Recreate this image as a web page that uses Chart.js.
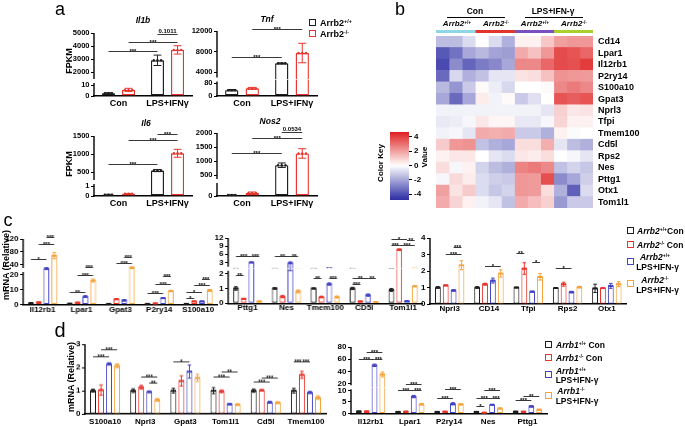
<!DOCTYPE html>
<html><head><meta charset="utf-8">
<script src="https://cdn.jsdelivr.net/npm/chart.js@4.4.1/dist/chart.umd.min.js"></script>
<style>
html,body{margin:0;padding:0;background:#fff;}
body{width:685px;height:426px;position:relative;overflow:hidden;font-family:"Liberation Sans",Arial,sans-serif;}
.t{position:absolute;white-space:nowrap;font-weight:bold;color:#000;line-height:1;}
.sq{position:absolute;width:5px;height:5px;border:1.4px solid #000;background:#fff;}
.hl{position:absolute;height:0;border-top:1px solid #000;}
sup{font-size:0.6em;vertical-align:0.5em;line-height:0;}
</style></head><body>
<script>
// ---------------- DATA ----------------
// Panel a (FPKM)
const aCats = ['Con', 'LPS+IFNγ'];
const il1bWT = [2.5, 2900], il1bWTErr = [0.5, 400];
const il1bKO = [5.5, 3700], il1bKOErr = [1.5, 320];
const tnfWT = [36, 5700], tnfWTErr = [4, 80];
const tnfKO = [47, 7700], tnfKOErr = [6, 1900];
const il6WT = [0.12, 540], il6WTErr = [0.05, 30];
const il6KO = [0.22, 1020], il6KOErr = [0.02, 110];
const nos2WT = [0.1, 850], nos2WTErr = [0.03, 80];
const nos2KO = [0.3, 1270], nos2KOErr = [0.1, 170];
// significance brackets: [cat1, bar1, cat2, bar2, y, label]
const annIl1b = [[0,0,1,0,3600,'***'],[0,1,1,1,4330,'***'],[1,0,1,1,4900,'0.1011']];
const annTnf = [[0,1,1,1,12400,'***'],[0,0,1,0,7020,'***']];
const annIl6 = [[1,0,1,1,1555,'***'],[0,1,1,1,1389,'***'],[0,0,1,0,722,'***']];
const annNos2 = [[1,0,1,1,2036,'0.0534'],[0,1,1,1,1820,'***'],[0,0,1,0,1285,'***']];

// Panel b heatmap
const heatGenes = ['Cd14','Lpar1','Il12rb1','P2ry14','S100a10','Gpat3','Nprl3','Tfpi','Tmem100','Cd5l','Rps2','Nes','Pttg1','Otx1','Tom1l1'];
const heatSamples = ['WT Con 1','WT Con 2','WT Con 3','KO Con 1','KO Con 2','KO Con 3','WT LPS 1','WT LPS 2','WT LPS 3','KO LPS 1','KO LPS 2','KO LPS 3'];
const heatValues = [
 [-1.5,-1.5,-0.8, 0.0,-0.8,-1.8,  0.3, 0.3, 1.2,  2.0, 2.2, 2.2],
 [-3.8,-3.2,-2.0,-1.6,-2.1,-2.2,  1.8, 1.3, 2.2,  3.8, 3.6, 3.2],
 [-4.1,-2.6,-3.5,-3.0,-2.7,-2.0,  2.5, 2.5, 3.2,  3.8, 3.7, 4.1],
 [-3.4,-0.9,-1.8,-1.4,-0.6,-0.6,  0.6, 0.7, 1.3,  2.3, 2.2, 2.1],
 [-1.6,-2.4,-1.2, 0.1,-0.4,-0.9,  0.0, 0.0, 0.1,  2.5, 2.8, 2.5],
 [-2.0,-3.4,-2.0, 0.4,-0.3, 0.1, -1.2,-0.7, 0.0,  3.6, 3.4, 3.6],
 [-0.3,-0.3,-0.3,-0.3,-0.3,-0.3, -0.3,-0.3,-0.6,  1.0, 0.5, 0.6],
 [-0.5,-0.4,-0.2, 0.5, 0.2, 0.2, -0.5,-0.5,-0.2,  0.9, 0.3, 0.3],
 [-0.3,-0.2,-0.6, 1.8, 1.7, 1.8, -1.2,-1.2,-1.8,  0.3,-0.1, 0.0],
 [ 1.1, 2.2, 2.3,-1.4,-1.8,-2.0,  0.7, 0.7, 1.7, -0.6,-1.5,-1.8],
 [ 0.3, 0.5, 0.5, 0.0,-0.6,-0.8,  0.5, 0.4, 0.7,  0.0,-0.2,-0.6],
 [ 0.7,-0.2, 0.3,-1.0,-1.5,-1.8,  2.6, 2.8, 2.5, -1.4,-1.0,-1.3],
 [-0.2, 0.8, 0.4,-0.8,-1.1,-1.2,  2.2, 2.1, 3.7, -2.6,-2.0,-1.1],
 [ 2.0, 0.6, 1.1,-0.8,-1.3,-1.0,  2.2, 2.1, 0.7, -1.8,-3.6,-0.8],
 [ 1.8, 0.9, 0.3,-0.3,-0.6,-1.4,  1.8, 1.4, 1.0, -2.3,-1.2,-1.2]
];
const stripGroups = ['Arrb2+/+ Con','Arrb2-/- Con','Arrb2+/+ LPS','Arrb2-/- LPS'];
const stripColors = ['#8fd6e6','#e0362c','#7b4fbf','#a9d12b'];
const keyTicks = [-4,-2,0,2,4];

// Panel c (mRNA relative)
const c1Genes = ['Il12rb1','Lpar1','Gpat3','P2ry14','S100a10'];
const c1WTCon = [1.0, 0.6, 0.4, 0.5, 0.5], c1WTConErr = [0.15,0.1,0.1,0.1,0.1];
const c1KOCon = [1.5, 1.2, 3.6, 0.7, 2.1], c1KOConErr = [0.2,0.3,0.4,0.2,0.2];
const c1WTLps = [27, 5.3, 2.8, 4.3, 2.1], c1WTLpsErr = [3,0.6,0.5,0.3,0.2];
const c1KOLps = [68, 16, 30, 9.0, 9.4], c1KOLpsErr = [10,1,2,0.4,0.5];
const annC1 = [[0,0,0,2,56,'*'],[0,1,0,3,105,'***'],[0,2,0,3,127,'***'],
 [1,0,1,2,8.5,'**'],[1,1,1,3,20,'***'],[1,2,1,3,33.7,'***'],
 [2,1,2,3,44,'***'],[2,2,2,3,63,'***'],
 [3,0,3,2,7.5,'***'],[3,1,3,3,13.8,'***'],[3,2,3,3,18.7,'***'],
 [4,0,4,1,4.5,'*'],[4,0,4,2,8.2,'*'],[4,1,4,3,13.1,'***'],[4,2,4,3,17.1,'***']];
const c2Genes = ['Pttg1','Nes','Tmem100','CD5l','Tom1l1'];
const c2WTCon = [1.0, 1.0, 1.0, 1.0, 0.9], c2WTConErr = [0.12,0.05,0.03,0.08,0.1];
const c2KOCon = [0.3, 0.45, 0.42, 0.12, 7.7], c2KOConErr = [0.03,0.08,0.06,0.02,0.25];
const c2WTLps = [3.0, 2.7, 1.3, 0.55, 0.15], c2WTLpsErr = [0.1,0.5,0.08,0.08,0.03];
const c2KOLps = [0.12, 0.8, 0.42, 0.08, 1.15], c2KOLpsErr = [0.02,0.1,0.07,0.02,0.03];
const annC2 = [[0,0,0,1,1.93,'**'],[0,0,0,2,5.2,'***'],[0,2,0,3,5.2,'***'],
 [1,0,1,2,5.2,'**'],[1,2,1,3,5.2,'**'],
 [2,0,2,1,1.7,'**'],[2,2,2,3,1.7,'***'],
 [3,0,3,1,1.3,'***'],[3,0,3,2,1.7,'**'],[3,2,3,3,1.7,'**'],
 [4,0,4,1,9.6,'***'],[4,0,4,2,11.7,'*'],[4,1,4,3,9.6,'***'],[4,2,4,3,11.1,'**']];
const c3Genes = ['Nprl3','CD14','Tfpi','Rps2','Otx1'];
const c3WTCon = [1.0, 1.0, 1.0, 0.97, 0.95], c3WTConErr = [0.05,0.05,0.03,0.03,0.25];
const c3KOCon = [1.13, 1.2, 2.15, 1.2, 0.97], c3KOConErr = [0.03,0.06,0.35,0.12,0.03];
const c3WTLps = [0.82, 1.42, 0.75, 0.72, 1.1], c3WTLpsErr = [0.05,0.15,0.03,0.05,0.15];
const c3KOLps = [2.35, 1.85, 1.65, 1.02, 1.2], c3KOLpsErr = [0.27,0.22,0.2,0.05,0.15];
const annC3 = [[0,2,0,3,3.45,'***'],[0,1,0,3,3.05,'***'],[1,1,1,3,2.3,'*'],
 [2,0,2,1,3.07,'**'],[2,2,2,3,2.56,'*'],[3,0,3,2,2.16,'*']];

// Panel d
const d1Genes = ['S100a10','Nprl3','Gpat3','Tom1l1','Cd5l','Tmem100'];
const d1WTCon = [1.0, 1.0, 1.0, 1.0, 1.0, 1.0], d1WTConErr = [0.06,0.08,0.1,0.13,0.07,0.1];
const d1KOCon = [1.03, 1.15, 1.42, 0.97, 1.02, 1.68], d1KOConErr = [0.22,0.08,0.22,0.06,0.03,0.15];
const d1WTLps = [2.15, 0.95, 1.82, 0.42, 0.5, 0.92], d1WTLpsErr = [0.05,0.04,0.28,0.03,0.04,0.05];
const d1KOLps = [2.07, 0.6, 1.55, 0.4, 0.48, 0.7], d1KOLpsErr = [0.08,0.06,0.15,0.04,0.04,0.08];
const annD1 = [[0,0,0,2,2.46,'***'],[0,1,0,3,2.78,'***'],[1,1,1,3,1.59,'***'],[1,2,1,3,1.35,'**'],
 [2,0,2,2,2.27,'*'],[3,0,3,2,1.62,'***'],[3,1,3,3,1.84,'**'],[4,0,4,2,1.4,'***'],[4,1,4,3,1.57,'***'],
 [5,0,5,1,2.27,'***'],[5,1,5,2,2.27,'***']];
const d2Genes = ['Il12rb1','Lpar1','P2ry14','Nes','Pttg1'];
const d2WTCon = [1.0, 0.8, 0.7, 0.8, 0.9], d2WTConErr = [0.1,0.1,0.1,0.1,0.1];
const d2KOCon = [1.0, 0.9, 0.9, 0.4, 0.9], d2KOConErr = [0.1,0.1,0.1,0.05,0.05];
const d2WTLps = [50, 7.3, 4.2, 3.8, 3.1], d2WTLpsErr = [2,0.5,0.5,0.2,0.3];
const d2KOLps = [35, 4.0, 4.0, 2.2, 1.7], d2KOLpsErr = [4,0.3,0.2,0.2,0.1];
const annD2 = [[0,0,0,2,60,'***'],[0,1,0,3,71,'***'],[0,2,0,3,60,'***'],
 [1,0,1,2,10.3,'***'],[1,1,1,3,20,'***'],[1,2,1,3,10.3,'***'],
 [2,0,2,2,6.9,'***'],[2,1,2,3,10.4,'***'],
 [3,0,3,1,3.1,'*'],[3,0,3,2,6.7,'***'],[3,1,3,3,10,'***'],[3,2,3,3,6.7,'***'],
 [4,0,4,2,6,'***'],[4,1,4,3,7.5,'**']];

// ---------------- STYLE / HELPERS ----------------
const FONT = '"Liberation Sans", Arial, sans-serif';
Chart.defaults.font.family = FONT;
Chart.defaults.color = '#000';
const cWT = '#1e1e1e', cKO = '#e8352c', cWTL = '#4444c6', cKOL = '#f6a23a';

function seg(v1, p1, v2, p2, pb, pt, ticks) {
  const k = (v2 - v1) / (p2 - p1);
  return {min: v1 + (pb - p1) * k, max: v1 + (pt - p1) * k, pb, pt, ticks};
}
function wrap(l, t, w, h) {
  const d = document.createElement('div');
  d.style.cssText = `position:absolute;left:${l}px;top:${t}px;width:${w}px;height:${h}px;`;
  const c = document.createElement('canvas');
  d.appendChild(c); document.body.appendChild(d);
  return c;
}
const baseOpts = {animation:false, responsive:true, maintainAspectRatio:false, events:[],
  plugins:{legend:{display:false}, tooltip:{enabled:false}, title:{display:false}}};

function barChart(o) {
  const YW = 30, TP = 16, RP = 6, XH = o.xh || 14, bw = o.bw || 1.1;
  const segs = o.segs, n = segs.length;
  const top = segs[n-1].pt, bot = segs[0].pb;
  const cl = o.l - YW, ct = top - TP, cw = o.r + RP - cl, ch = bot + XH - ct;
  const cv = wrap(cl, ct, cw, ch);
  const scales = {
    x: {type:'category', offset:true, grid:{display:false, drawTicks:false},
        border:{display:true, color:'#000', width:1.4},
        ticks:{font:{family:FONT, size:o.xf||8, weight:'bold'}, color:'#000', padding:o.xp||0, maxRotation:0, minRotation:0, autoSkip:false},
        afterFit: s => { s.height = XH; s.paddingLeft = 0; s.paddingRight = 0; }}
  };
  segs.forEach((sg, i) => {
    const sc = {type:'linear', position:'left', min:sg.min, max:sg.max, stacked:false,
      afterBuildTicks: s => { s.ticks = sg.ticks.map(v => ({value:v})); },
      afterFit: s => { s.width = YW; s.paddingTop = 0; s.paddingBottom = 0; },
      grid:{display:true, drawOnChartArea:false, drawTicks:true, tickLength:3, color:'#000', lineWidth:1},
      border:{display:false},
      ticks:{font:{family:FONT, size:o.yf||8, weight:'bold'}, color:'#000', padding:1.5, autoSkip:false, callback: v => String(v)}};
    if (n > 1) { sc.stack = 'v'; sc.stackWeight = sg.pb - sg.pt; }
    scales['y' + i] = sc;
  });
  const ds = [];
  o.series.forEach((s, i) => {
    ds.push({label:s.name, data:s.v.map(v => Math.min(v, segs[0].max)), yAxisID:'y0', stack:'g'+i,
      borderColor:s.c, backgroundColor:'#fff', borderSkipped:false,
      borderWidth: ctx => ({left:bw, right:bw, bottom:bw, top:(n > 1 && s.v[ctx.dataIndex] > segs[0].max) ? 0 : bw}),
      barPercentage:o.bp, categoryPercentage:o.cp});
  });
  if (n > 1) o.series.forEach((s, i) => {
    ds.push({label:s.name + ' (upper)', data:s.v.map(v => v > segs[1].min ? [segs[1].min, v] : null), yAxisID:'y1', stack:'g'+i,
      borderColor:s.c, backgroundColor:'#fff', borderSkipped:false,
      borderWidth:{left:bw, right:bw, top:bw, bottom:0},
      barPercentage:o.bp, categoryPercentage:o.cp});
  });
  const ext = {id:'ext', afterDatasetsDraw(chart) {
    const ctx = chart.ctx, ca = chart.chartArea;
    const S = segs.map((sg, i) => chart.scales['y' + i]);
    const pix = v => { for (let i = 0; i < n; i++) { if (v <= segs[i].max || i === n - 1) return S[i].getPixelForValue(i > 0 ? Math.max(v, segs[i].min) : v); } };
    ctx.save();
    ctx.strokeStyle = '#000'; ctx.lineWidth = 1.4;
    S.forEach((sc, i) => {
      const y1 = sc.bottom - (i > 0 ? 2 : -0.7), y2 = sc.top + (i < n - 1 ? 2 : 0);
      ctx.beginPath(); ctx.moveTo(ca.left, y1); ctx.lineTo(ca.left, y2); ctx.stroke();
    });
    o.series.forEach((s, si) => {
      const meta = chart.getDatasetMeta(si);
      s.v.forEach((v, ci) => {
        const bar = meta.data[ci]; const x = bar.x, w = bar.width, e = s.e[ci];
        const yT = pix(v + e), yB = pix(Math.max(v - e, 0)), cap = Math.max(1.6, w * 0.3);
        ctx.strokeStyle = s.c; ctx.lineWidth = 1;
        ctx.beginPath(); ctx.moveTo(x, yT); ctx.lineTo(x, yB);
        ctx.moveTo(x - cap, yT); ctx.lineTo(x + cap, yT);
        ctx.moveTo(x - cap, yB); ctx.lineTo(x + cap, yB); ctx.stroke();
        ctx.fillStyle = s.c; const py = pix(v);
        [-0.28, 0, 0.28].forEach(f => { ctx.beginPath(); ctx.arc(x + f * w, py, o.dr || 1.1, 0, Math.PI * 2); ctx.fill(); });
      });
    });
    ctx.textAlign = 'center'; ctx.textBaseline = 'alphabetic';
    (o.ann || []).forEach(a => {
      const [c1, b1, c2, b2, y, t] = a;
      const x1 = chart.getDatasetMeta(b1).data[c1].x, x2 = chart.getDatasetMeta(b2).data[c2].x;
      const py = Math.round(pix(y)) + 0.5;
      ctx.strokeStyle = '#222'; ctx.lineWidth = 0.9;
      ctx.beginPath(); ctx.moveTo(x1, py); ctx.lineTo(x2, py); ctx.stroke();
      ctx.fillStyle = '#000';
      const star = t[0] === '*';
      ctx.font = `bold ${star ? 6 : 6}px ${FONT}`;
      ctx.fillText(t, (x1 + x2) / 2, star ? py + 1.6 : py - 1.2);
    });
    ctx.restore();
  }};
  return new Chart(cv, {type:'bar', data:{labels:o.cats, datasets:ds},
    options:Object.assign({}, baseOpts, {layout:{padding:{top:TP, right:RP, left:0, bottom:0}}, scales}),
    plugins:[ext]});
}

function heatColor(v) {
  const t = Math.max(-1, Math.min(1, v / 4.7));
  const e = t < 0 ? [48, 48, 165] : [222, 32, 32];
  const a = Math.abs(t);
  return `rgb(${Math.round(255 + (e[0] - 255) * a)},${Math.round(255 + (e[1] - 255) * a)},${Math.round(255 + (e[2] - 255) * a)})`;
}

function T(html, x, y, size, opt) {
  opt = opt || {};
  const d = document.createElement('div');
  d.className = 't'; d.innerHTML = html;
  d.style.fontSize = size + 'px'; d.style.left = x + 'px'; d.style.top = y + 'px';
  if (opt.it) d.style.fontStyle = 'italic';
  if (opt.nb) d.style.fontWeight = 'normal';
  d.style.transform = (opt.a === 'l' ? 'translate(0,-50%)' : 'translate(-50%,-50%)') + (opt.rot ? ' rotate(-90deg)' : '');
  document.body.appendChild(d);
}
function SQ(cx, cy, color) {
  const d = document.createElement('div'); d.className = 'sq';
  d.style.left = (cx - 4) + 'px'; d.style.top = (cy - 4) + 'px'; d.style.borderColor = color;
  document.body.appendChild(d);
}
function HL(x1, x2, y) {
  const d = document.createElement('div'); d.className = 'hl';
  d.style.left = x1 + 'px'; d.style.top = y + 'px'; d.style.width = (x2 - x1) + 'px';
  document.body.appendChild(d);
}

// ---------------- PANEL a ----------------
const aStyle = {cats:aCats, cp:0.82, bp:0.65, xf:9, xp:2, xh:14, bw:1.4, dr:1.2, yf:7.5};
barChart(Object.assign({l:94, r:192, segs:[seg(0,96,10,85,96,81,[0,10]), seg(2000,72,5000,33,81,33,[2000,3000,4000,5000])],
  series:[{name:'Arrb2+/+', c:cWT, v:il1bWT, e:il1bWTErr}, {name:'Arrb2-/-', c:cKO, v:il1bKO, e:il1bKOErr}], ann:annIl1b}, aStyle));
barChart(Object.assign({l:217, r:317, segs:[seg(0,96,80,83,96,79.5,[0,80]), seg(4000,72,12000,31,79.5,31,[4000,8000,12000])],
  series:[{name:'Arrb2+/+', c:cWT, v:tnfWT, e:tnfWTErr}, {name:'Arrb2-/-', c:cKO, v:tnfKO, e:tnfKOErr}], ann:annTnf}, aStyle));
barChart(Object.assign({l:94, r:192, segs:[seg(0,196,1,186,196,182,[0,1]), seg(500,172,1500,136,182,136,[500,1000,1500])],
  series:[{name:'Arrb2+/+', c:cWT, v:il6WT, e:il6WTErr}, {name:'Arrb2-/-', c:cKO, v:il6KO, e:il6KOErr}], ann:annIl6}, aStyle));
barChart(Object.assign({l:217, r:317, segs:[seg(0,196,1,186,196,181,[0]), seg(500,175,2000,133,181,133,[500,1000,1500,2000])],
  series:[{name:'Arrb2+/+', c:cWT, v:nos2WT, e:nos2WTErr}, {name:'Arrb2-/-', c:cKO, v:nos2KO, e:nos2KOErr}], ann:annNos2}, aStyle));

// ---------------- PANEL c ----------------
const cStyle = {cp:0.8, bp:0.75, xf:8, xp:0, xh:12, bw:1.1};
barChart(Object.assign({l:23, r:216.5, cats:c1Genes,
  segs:[seg(0,304,20,274,304,269.5,[0,10,20]), seg(40,264,120,238.5,269.5,238.5,[40,80,120])],
  series:[{name:'WT Con', c:cWT, v:c1WTCon, e:c1WTConErr}, {name:'KO Con', c:cKO, v:c1KOCon, e:c1KOConErr},
          {name:'WT LPS', c:cWTL, v:c1WTLps, e:c1WTLpsErr}, {name:'KO LPS', c:cKOL, v:c1KOLps, e:c1KOLpsErr}], ann:annC1}, cStyle));
barChart(Object.assign({l:228, r:421.5, cats:c2Genes,
  segs:[seg(0,303.5,2,274,303.5,269,[0,1,2]), seg(3,262.7,12,238.3,269,238.3,[3,6,9,12])],
  series:[{name:'WT Con', c:cWT, v:c2WTCon, e:c2WTConErr}, {name:'KO Con', c:cKO, v:c2KOCon, e:c2KOConErr},
          {name:'WT LPS', c:cWTL, v:c2WTLps, e:c2WTLpsErr}, {name:'KO LPS', c:cKOL, v:c2KOLps, e:c2KOLpsErr}], ann:annC2}, cStyle));
barChart(Object.assign({l:429.5, r:626, cats:c3Genes,
  segs:[seg(0,304,4,238,304,238,[0,1,2,3,4])],
  series:[{name:'WT Con', c:cWT, v:c3WTCon, e:c3WTConErr}, {name:'KO Con', c:cKO, v:c3KOCon, e:c3KOConErr},
          {name:'WT LPS', c:cWTL, v:c3WTLps, e:c3WTLpsErr}, {name:'KO LPS', c:cKOL, v:c3KOLps, e:c3KOLpsErr}], ann:annC3}, cStyle));

// ---------------- PANEL d ----------------
const dStyle = {cp:0.8, bp:0.75, xf:8, xp:3, xh:12.5, bw:1.1};
barChart(Object.assign({l:85, r:326, cats:d1Genes,
  segs:[seg(0,413.3,3,344.3,413.3,344.3,[0,1,2,3])],
  series:[{name:'WT Con', c:cWT, v:d1WTCon, e:d1WTConErr}, {name:'KO Con', c:cKO, v:d1KOCon, e:d1KOConErr},
          {name:'WT LPS', c:cWTL, v:d1WTLps, e:d1WTLpsErr}, {name:'KO LPS', c:cKOL, v:d1KOLps, e:d1KOLpsErr}], ann:annD1}, dStyle));
barChart(Object.assign({l:351, r:547, cats:d2Genes,
  segs:[seg(0,413.3,10,390,413.3,387,[0,5,10]), seg(20,383.3,80,346.7,387,346.7,[20,40,60,80])],
  series:[{name:'WT Con', c:cWT, v:d2WTCon, e:d2WTConErr}, {name:'KO Con', c:cKO, v:d2KOCon, e:d2KOConErr},
          {name:'WT LPS', c:cWTL, v:d2WTLps, e:d2WTLpsErr}, {name:'KO LPS', c:cKOL, v:d2KOLps, e:d2KOLpsErr}], ann:annD2}, dStyle));

// ---------------- PANEL b heatmap ----------------
new Chart(wrap(436, 36, 249, 172), {type:'bar',
  data:{labels:heatGenes, datasets:heatSamples.map((smp, j) => ({label:smp, data:heatGenes.map(() => 1),
    backgroundColor:heatValues.map(r => heatColor(r[j])), borderWidth:0, barPercentage:1, categoryPercentage:1}))},
  options:Object.assign({}, baseOpts, {indexAxis:'y', layout:{padding:0},
    scales:{x:{stacked:true, min:0, max:heatSamples.length, display:false},
      y:{stacked:true, position:'right', grid:{display:false, drawTicks:false}, border:{display:false},
        ticks:{font:{family:FONT, size:9, weight:'bold'}, color:'#000', padding:5, autoSkip:false},
        afterFit: s => { s.width = 92; s.paddingTop = 0; s.paddingBottom = 0; }}}})});
// group colour strip
new Chart(wrap(436, 30, 157, 3), {type:'bar',
  data:{labels:['group'], datasets:stripGroups.map((g, i) => ({label:g, data:[3], backgroundColor:stripColors[i], borderWidth:0, barPercentage:1, categoryPercentage:1}))},
  options:Object.assign({}, baseOpts, {indexAxis:'y', layout:{padding:0},
    scales:{x:{stacked:true, min:0, max:12, display:false}, y:{stacked:true, display:false}}})});
// colour key
const keyMin = -4.84, keyMax = 4.70;
new Chart(wrap(375, 126, 57, 80), {type:'bar',
  data:{labels:['key'], datasets:[{label:'Value', data:[[keyMin, keyMax]], borderWidth:0, barPercentage:1, categoryPercentage:1,
    backgroundColor: c => {
      const ch = c.chart, a = ch.chartArea;
      if (!a) return '#fff';
      const g = ch.ctx.createLinearGradient(0, a.bottom, 0, a.top);
      for (let i = 0; i <= 20; i++) { const v = keyMin + (keyMax - keyMin) * i / 20; g.addColorStop(i / 20, heatColor(v)); }
      return g;
    }}]},
  options:Object.assign({}, baseOpts, {layout:{padding:{left:15, top:6, bottom:6, right:0}},
    scales:{x:{display:false},
      y:{position:'right', min:keyMin, max:keyMax,
        afterBuildTicks: s => { s.ticks = keyTicks.map(v => ({value:v})); },
        afterFit: s => { s.width = 23; s.paddingTop = 0; s.paddingBottom = 0; },
        grid:{display:true, drawOnChartArea:false, drawTicks:true, tickLength:3, color:'#000'}, border:{display:false},
        ticks:{font:{family:FONT, size:8, weight:'bold'}, color:'#000', padding:2, autoSkip:false}}}})});

// ---------------- TEXT ----------------
T('a', 60, 8.5, 18, {nb:1}); T('b', 400, 8.5, 18, {nb:1}); T('c', 8, 219.5, 18, {nb:1}); T('d', 60, 329.5, 20, {nb:1});
T('Il1b', 143, 19.5, 8.5, {it:1}); T('Tnf', 267, 18.5, 8.5, {it:1});
T('Il6', 146, 122.7, 8.5, {it:1}); T('Nos2', 270, 120.5, 8.5, {it:1});
T('FPKM', 69, 61, 9, {rot:1}); T('FPKM', 69, 163.5, 9, {rot:1});
T('mRNA (Relative)', 5.5, 265, 9, {rot:1}); T('mRNA (Relative)', 70.5, 377, 9, {rot:1});
// legend a
SQ(313, 23, cWT); SQ(313, 34, cKO);
T('Arrb2<sup>+/+</sup>', 320, 23, 9, {a:'l'}); T('Arrb2<sup>-/-</sup>', 320, 34, 9, {a:'l'});
// legend c
SQ(630.5, 231, cWT); SQ(630.5, 244.5, cKO); SQ(630.5, 261.5, cWTL); SQ(630.5, 284, cKOL);
T('<i>Arrb2</i><sup>+/+</sup>Con', 637, 231, 8.5, {a:'l'}); T('<i>Arrb2</i><sup>-/-</sup> Con', 637, 244.5, 8.5, {a:'l'});
T('<i>Arrb2</i><sup>+/+</sup>', 655, 257, 8.5); T('LPS+IFN-γ', 657.5, 266.5, 8.5);
T('<i>Arrb2</i><sup>-/-</sup>', 655, 279.5, 8.5); T('LPS+IFN-γ', 657.5, 289.5, 8.5);
// legend d
SQ(548.5, 345, cWT); SQ(548.5, 357.5, cKO); SQ(548.5, 374.5, cWTL); SQ(548.5, 395.5, cKOL);
T('<i>Arrb1</i><sup>+/+</sup> Con', 556, 345, 8.5, {a:'l'}); T('<i>Arrb1</i><sup>-/-</sup> Con', 556, 357.5, 8.5, {a:'l'});
T('<i>Arrb1</i><sup>+/+</sup>', 571, 371, 8.5); T('LPS+IFN-γ', 577, 380, 8.5);
T('<i>Arrb1</i><sup>-/-</sup>', 571, 391, 8.5); T('LPS+IFN-γ', 577, 400.5, 8.5);
// heatmap headers
T('Con', 475, 11, 8.5); T('LPS+IFN-γ', 553, 11, 8.5);
HL(447, 505, 16.5); HL(525, 583, 16.5);
T('<i>Arrb2</i><sup>+/+</sup>', 457, 24, 8); T('<i>Arrb2</i><sup>-/-</sup>', 496, 24, 8);
T('<i>Arrb2</i><sup>+/+</sup>', 535, 24, 8); T('<i>Arrb2</i><sup>-/-</sup>', 574, 24, 8);
T('Color Key', 381, 163, 8, {rot:1}); T('Value', 425, 157, 8, {rot:1});
</script>
</body></html>
